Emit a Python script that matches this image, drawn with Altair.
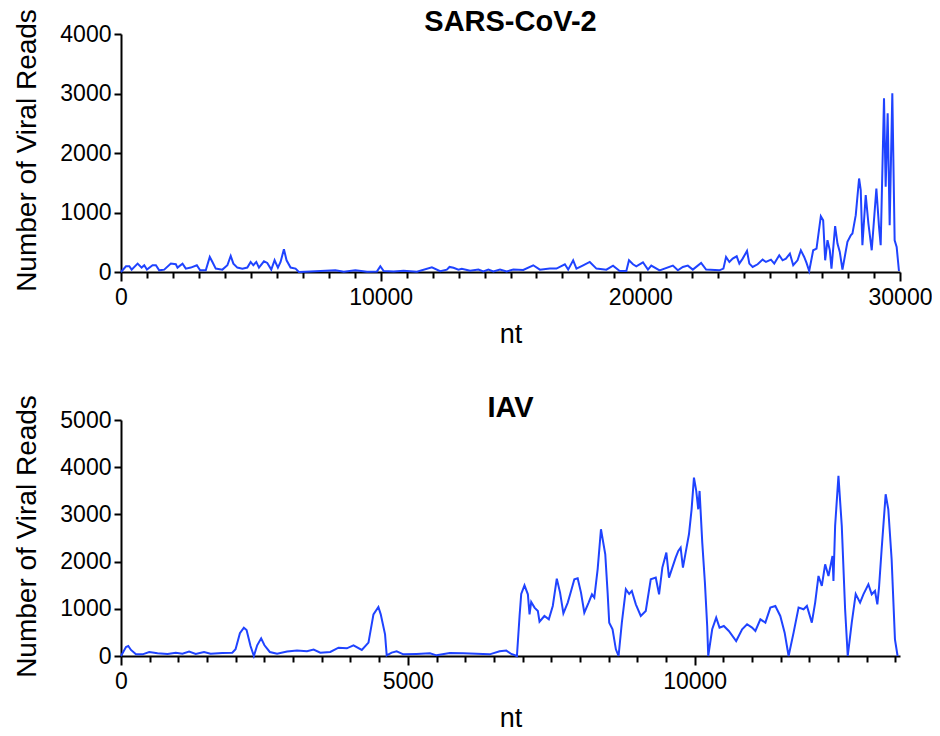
import altair as alt
import pandas as pd

# ---------------- SARS-CoV-2 coverage (nt position, reads) ----------------
sars_nt = [0, 192, 320, 410, 640, 794, 896, 999, 1216, 1344, 1472, 1664, 1920, 2112, 2176,
           2369, 2497, 2689, 2920, 3047, 3265, 3419, 3521, 3649, 3905, 4097, 4225, 4328,
           4481, 4673, 4865, 4993, 5096, 5211, 5313, 5505, 5633, 5787, 5915, 6043, 6145,
           6274, 6376, 6530, 6722, 6850, 7298, 8258, 8578, 9026, 9474, 9859, 9987, 10115,
           10499, 10883, 11396, 11972, 12292, 12548, 12651, 12804, 12996, 13124, 13444,
           13764, 13956, 14148, 14340, 14596, 14852, 15108, 15492, 15876, 16132, 16516,
           16772, 17093, 17221, 17413, 17541, 17797, 18053, 18309, 18693, 18949, 19205,
           19461, 19563, 19717, 19845, 20101, 20293, 20421, 20741, 21253, 21445, 21637,
           21829, 22021, 22341, 22533, 23045, 23199, 23301, 23429, 23557, 23711, 23813,
           23941, 24108, 24198, 24326, 24518, 24710, 24838, 25030, 25158, 25350, 25478,
           25606, 25760, 25888, 26054, 26182, 26310, 26400, 26503, 26657, 26785, 26951,
           27041, 27118, 27208, 27297, 27361, 27502, 27592, 27681, 27784, 27976, 28104,
           28168, 28296, 28424, 28488, 28552, 28680, 28783, 28911, 29090, 29192, 29256,
           29384, 29448, 29525, 29602, 29704, 29794, 29871, 29960]
sars_reads = [0, 96, 96, 40, 141, 74, 113, 40, 113, 113, 28, 40, 141, 130, 74,
              141, 57, 74, 113, 28, 28, 253, 169, 57, 40, 113, 270, 141, 74,
              57, 74, 169, 113, 169, 74, 180, 152, 40, 197, 74, 169,
              382, 197, 74, 57, 0, 10, 30, 5, 30, 5, 10, 96, 15,
              10, 20, 5, 80, 15, 40, 85, 70, 40, 55, 20,
              40, 10, 40, 10, 40, 10, 40, 35, 113, 40, 57,
              57, 130, 40, 197, 57, 113, 169, 57, 40, 107, 17,
              17, 197, 130, 96, 163, 40, 107, 28, 107, 28, 85,
              107, 40, 152, 40, 28, 57, 253, 169, 225, 264, 141,
              225, 354, 141, 85, 130, 208, 169, 208, 141, 281, 197,
              225, 309, 113, 197, 365, 253, 152, 17, 365, 393, 938,
              870, 197, 534, 365, 57, 770, 478, 337, 40, 506, 618,
              646, 955, 1572, 1376, 450, 1292, 815, 365, 1404, 758, 450,
              2920, 1432, 2667, 786, 3004, 534, 421, 17]

# ---------------- IAV coverage (nt position, reads) ----------------
iav_nt = [0, 87, 127, 174, 261, 376, 492, 637, 811, 955, 1071, 1187, 1303, 1447, 1563,
          1766, 1940, 1997, 2073, 2142, 2189, 2258, 2316, 2374, 2443, 2501, 2594, 2721,
          2895, 3068, 3242, 3358, 3474, 3648, 3792, 3937, 4053, 4198, 4314, 4401, 4487,
          4528, 4603, 4632, 4719, 4806, 4921, 5153, 5385, 5500, 5732, 5964, 6195, 6427,
          6601, 6717, 6804, 6902, 6948, 6977, 7034, 7093, 7122, 7151, 7209, 7267, 7296,
          7381, 7458, 7527, 7597, 7654, 7712, 7788, 7846, 7903, 7961, 8019, 8077, 8152,
          8210, 8251, 8309, 8367, 8442, 8483, 8511, 8569, 8627, 8674, 8731, 8801, 8859,
          8905, 8975, 9061, 9148, 9235, 9322, 9380, 9437, 9507, 9553, 9611, 9669, 9715,
          9756, 9796, 9843, 9901, 9947, 9988, 10028, 10063, 10086, 10133, 10179, 10219,
          10237, 10306, 10376, 10434, 10509, 10596, 10724, 10828, 10914, 11001, 11059,
          11146, 11233, 11320, 11407, 11493, 11569, 11638, 11725, 11812, 11899, 11957,
          12043, 12101, 12159, 12217, 12275, 12333, 12403, 12420, 12449, 12507, 12565,
          12623, 12669, 12739, 12808, 12884, 12942, 13029, 13087, 13144, 13185, 13214,
          13260, 13330, 13376, 13434, 13492, 13538]
iav_reads = [0, 191, 213, 128, 35, 35, 85, 57, 43, 71, 50, 93, 43, 85, 50,
             64, 71, 142, 481, 601, 552, 213, 0, 227, 375, 227, 85, 50,
             93, 114, 100, 135, 71, 85, 177, 163, 227, 128, 283, 883, 1039,
             883, 459, 14, 71, 100, 35, 43, 57, 14, 64, 57, 50, 35,
             100, 114, 43, 0, 848, 1314, 1498, 1307, 883, 1145, 1025, 954, 728,
             848, 777, 1060, 1639, 1343, 905, 1131, 1378, 1625, 1646, 1343, 919, 1131,
             1307, 1237, 1837, 2685, 2155, 1343, 707, 566, 142, 0, 707, 1413, 1314,
             1378, 1095, 848, 954, 1625, 1661, 1307, 1873, 2190, 1661, 1873, 2084, 2226,
             2296, 1873, 2190, 2579, 3108, 3780, 3497, 3108, 3497, 2402, 1555, 636,
             0, 566, 813, 601, 636, 530, 318, 566, 672, 601, 530,
             777, 707, 1025, 1060, 848, 495, 0, 495, 1025, 990, 1060,
             707, 1131, 1696, 1484, 1943, 1696, 2120, 1590, 2755, 3815, 2755,
             990, 0, 707, 1314, 1131, 1307, 1519, 1307, 1378, 1095, 1449,
             2261, 3426, 3108, 2049, 354, 0]

# ---------------- axes ----------------
sars_x_ticks = list(range(0, 30001, 1000))
sars_y_ticks = [0, 1000, 2000, 3000, 4000]
iav_x_ticks = list(range(0, 13501, 500))
iav_y_ticks = [0, 1000, 2000, 3000, 4000, 5000]

FONT = "Liberation Sans"
BLUE = "#1f43ff"


def panel(nt, reads, title, xmax, xticks, major, ymax, yticks, h):
    df = pd.DataFrame({"nt": nt, "reads": reads})
    xaxis = alt.Axis(
        values=xticks,
        format="d",
        labelExpr=f"datum.value % {major} === 0 ? datum.label : ''",
        tickSize={"condition": {"test": f"datum.value % {major} === 0", "value": 9}, "value": 6},
        labelFlush=False,
        labelOverlap=False,
        labelPadding=5,
        title="nt",
        titlePadding=12,
        grid=False,
    )
    yaxis = alt.Axis(
        values=yticks,
        format="d",
        tickSize=7,
        labelPadding=3,
        title="Number of Viral Reads",
        titlePadding=18,
        titleFontSize=28,
        titleY=116,
        grid=False,
    )
    return (
        alt.Chart(df)
        .mark_line(color=BLUE, strokeWidth=2)
        .encode(
            x=alt.X("nt:Q", scale=alt.Scale(domain=[0, xmax], nice=False), axis=xaxis),
            y=alt.Y("reads:Q", scale=alt.Scale(domain=[0, ymax], nice=False), axis=yaxis),
        )
        .properties(
            width=779,
            height=h,
            title=alt.TitleParams(
                title, fontSize=29, fontWeight="bold", font=FONT, offset=-28.6,
                anchor="middle", frame="group", color="black"
            ),
        )
    )


top = panel(sars_nt, sars_reads, "SARS-CoV-2", 30000, sars_x_ticks, 10000, 4000, sars_y_ticks, 238)
bottom = panel(iav_nt, iav_reads, "IAV", 13580, iav_x_ticks, 5000, 5000, iav_y_ticks, 236)

chart = (
    alt.vconcat(top, bottom, spacing=47)
    .properties(padding={"left": 5, "top": 0, "right": 0, "bottom": 0}, background="white")
    .configure_view(stroke=None)
    .configure_axis(
        domainColor="black",
        domainWidth=2,
        tickColor="black",
        tickWidth=2,
        labelFont=FONT,
        labelFontSize=23,
        labelColor="black",
        titleFont=FONT,
        titleFontSize=27,
        titleFontWeight="normal",
        titleColor="black",
    )
)

chart.save("out.html", embed_options={"renderer": "svg", "actions": False})
